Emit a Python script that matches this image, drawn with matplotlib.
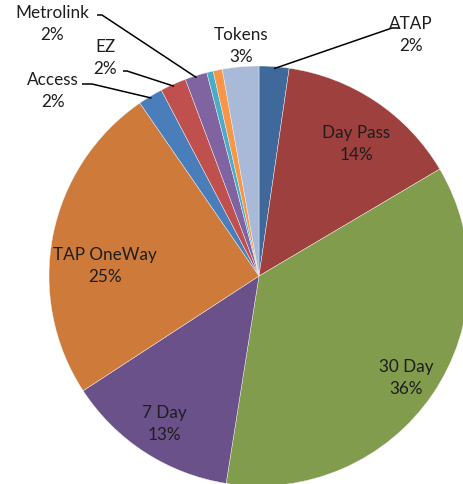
import numpy as np
import matplotlib
matplotlib.use('Agg')
import matplotlib.pyplot as plt

plt.rcParams['font.family'] = ['Lato', 'DejaVu Sans']

# fare types, clockwise from 12 o'clock
names = ['ATAP', 'Day Pass', '30 Day', '7 Day', 'TAP OneWay', 'Access',
         'EZ', 'Metrolink', 'Other1', 'Other2', 'Tokens']
shares = [2.3, 14.2, 36.0, 13.3, 24.6, 1.9, 2.0, 1.7, 0.5, 0.7, 2.8]
show_label = [True, True, True, True, True, True, True, True, False, False, True]
colors = ['#3F689B', '#9E403D', '#809C4C', '#6A5189', '#CD7A3A', '#4A7EBB',
          '#C0504D', '#8064A2', '#4BACC6', '#F79646', '#A8BAD8']

# label text position (pixels) and whether a leader line is drawn
label_px = {'ATAP': (411, 35, True), 'Day Pass': (356, 144, False),
            '30 Day': (406, 378, False), '7 Day': (164, 424, False),
            'TAP OneWay': (105, 266, False), 'Access': (53, 91, True),
            'EZ': (105, 58, True), 'Metrolink': (52, 24, True),
            'Tokens': (241, 46, False)}
# where the leader line meets the label
leader_end = {'ATAP': (392, 29, 400), 'Access': (92, 85, 82),
              'EZ': (127, 72, 123), 'Metrolink': (102, 16, 97)}

W, H = 463, 485
cx, cy, R = 259, 277, 210


def to_data(px, py):
    return (px - cx) / R, (cy - py) / R


fig = plt.figure(figsize=(W / 100, H / 100), dpi=100)
ax = fig.add_axes([0, 0, 1, 1])
wedges, _ = ax.pie(shares, colors=colors, startangle=90, counterclock=False,
                   radius=1, wedgeprops=dict(edgecolor='#f4f4f4', linewidth=0.3))
ax.set_xlim(-cx / R, (W - cx) / R)
ax.set_ylim(-(H - cy) / R, cy / R)
ax.set_aspect('auto')
ax.axis('off')

total = sum(shares)
for w, name, v, show in zip(wedges, names, shares, show_label):
    if not show:
        continue
    px, py, lead = label_px[name]
    x, y = to_data(px, py)
    ax.text(x, y, '%s\n%d%%' % (name, round(v / total * 100)), ha='center',
            va='center', fontsize=12.3, color='#1e1e1e', linespacing=1.5)
    if lead:
        a = np.deg2rad((w.theta1 + w.theta2) / 2)
        x0, y0 = np.cos(a) * 0.99, np.sin(a) * 0.99
        ex, ey, hx = leader_end[name]
        x1, y1 = to_data(ex, ey)
        x2, _ = to_data(hx, ey)
        ax.plot([x0, x1, x2], [y0, y1, y1], color='black', lw=1.1,
                solid_capstyle='butt')

fig.savefig('out.png', dpi=100)
